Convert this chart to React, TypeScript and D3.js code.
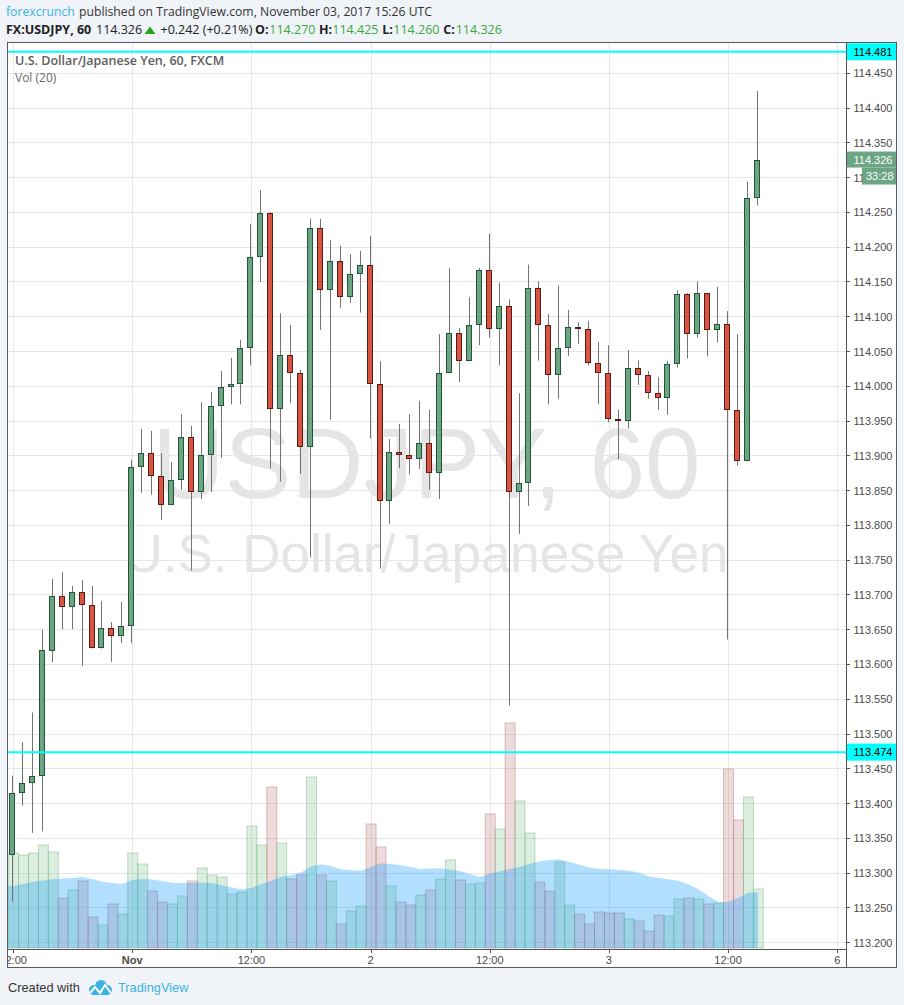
import React from 'react';
import * as d3 from 'd3';

// ---------- data ----------
const opens = [113.326,113.415,113.430,113.440,113.620,113.698,113.682,113.704,113.685,113.623,
113.652,113.641,113.655,113.884,113.904,113.871,113.829,113.865,113.927,113.848,
113.901,113.971,113.999,114.003,114.055,114.186,114.249,113.968,114.045,114.019,
113.912,114.227,114.138,114.180,114.129,114.161,114.174,114.003,113.835,113.905,
113.901,113.896,113.918,113.875,114.019,114.076,114.036,114.088,114.167,114.082,
114.115,113.848,113.861,114.142,114.088,114.016,114.055,114.085,114.082,114.034,
114.019,113.953,113.950,114.026,114.016,113.990,113.983,114.032,114.132,114.075,
114.134,114.081,114.089,113.966,113.892,114.270];
const highs = [113.440,113.488,113.531,113.650,113.723,113.733,113.713,113.721,113.713,113.691,
113.661,113.690,113.894,113.939,113.936,113.904,113.891,113.960,113.943,113.977,
113.992,114.022,114.041,114.067,114.233,114.282,114.250,114.105,114.088,114.024,
114.241,114.241,114.210,114.202,114.190,114.195,114.216,114.036,113.924,113.946,
113.960,113.979,113.966,114.075,114.170,114.084,114.128,114.170,114.219,114.149,
114.125,113.990,114.175,114.151,114.104,114.145,114.110,114.092,114.094,114.064,
114.059,113.966,114.052,114.037,114.022,114.013,114.036,114.138,114.134,114.151,
114.134,114.143,114.108,114.075,114.294,114.425];
const lows = [113.259,113.397,113.358,113.360,113.603,113.651,113.651,113.598,113.623,113.623,
113.604,113.631,113.631,113.847,113.844,113.808,113.829,113.851,113.735,113.838,
113.848,113.897,113.974,113.974,114.030,114.150,113.882,113.863,113.976,113.874,
113.754,114.081,113.952,114.113,114.120,114.106,113.925,113.738,113.802,113.882,
113.873,113.881,113.851,113.838,114.019,114.006,114.036,114.059,114.070,114.030,
113.541,113.788,113.828,114.037,113.974,113.982,114.044,114.061,114.030,113.974,
113.948,113.895,113.939,114.002,113.982,113.966,113.959,114.027,114.040,114.070,
114.043,114.063,113.636,113.886,113.892,114.260];
const closes = [113.415,113.430,113.440,113.621,113.698,113.682,113.704,113.685,113.623,113.652,
113.641,113.655,113.884,113.904,113.871,113.829,113.865,113.927,113.848,113.901,
113.971,113.999,114.003,114.055,114.186,114.249,113.968,114.045,114.019,113.912,
114.227,114.138,114.180,114.129,114.161,114.174,114.003,113.835,113.905,113.901,
113.896,113.918,113.875,114.019,114.076,114.036,114.088,114.167,114.082,114.115,
113.848,113.861,114.142,114.088,114.016,114.055,114.085,114.082,114.034,114.019,
113.953,113.950,114.026,114.016,113.990,113.983,114.032,114.132,114.075,114.134,
114.081,114.089,113.966,113.892,114.270,114.326];
const volumes = [950,930,950,1030,960,500,580,670,310,230,
440,340,950,840,570,460,440,520,670,800,
730,710,540,560,1220,1030,1610,1050,690,730,
1710,730,670,240,370,420,1240,1010,620,460,
430,530,580,690,880,680,640,650,1340,1190,
2250,1470,1150,660,570,860,430,340,240,360,
350,350,290,270,170,330,320,490,500,490,
440,450,1790,1280,1510,590];
const volMA = [620,640,660,675,687,695,700,710,690,663,
650,640,680,690,685,670,653,650,653,653,
650,630,605,587,600,640,673,710,730,755,
815,837,820,787,780,773,810,847,840,830,
810,787,795,797,785,770,740,710,745,765,
790,810,840,865,880,887,860,835,805,792,
787,780,773,755,715,700,685,673,635,590,
520,460,460,500,553,557];
const timeTickIndex = [0, 12, 24, 36, 48, 60, 72, 83];
const timeTickLabels = ['12:00', 'Nov', '12:00', '2', '12:00', '3', '12:00', '6'];
const timeTickBold = [false, true, false, false, false, false, false, false];
const priceTicks = d3.range(0, 26).map((i) => 113.2 + i * 0.05);
const levelLines = [114.481, 113.474];
const lastPrice = 114.326;
const countdown = '33:28';

// ---------- layout ----------
const W = 904, H = 1005;
const plotL = 7, plotR = 846, plotT = 42, plotB = 949, frameR = 897, frameB = 968;
const SANS = "'Liberation Sans', Arial, sans-serif";
const HEAD = "'Open Sans', 'Noto Sans', sans-serif";
const FOOT = "'Liberation Sans Narrow', 'Liberation Sans', sans-serif";

const x = d3.scaleLinear().domain([0, 83]).range([13.1, 837.3]);
const y = d3.scaleLinear().domain([113.2, 114.45]).range([942.7, 73.3]);
const yv = d3.scaleLinear().domain([0, 3000]).range([948, 648]);
const fmt = d3.format('.3f');

const UP = '#6ba583', UP_B = '#225437', DN = '#d75442', DN_B = '#5b1a13';

export default function App() {
  const n = opens.length;
  const idx = d3.range(n);
  const step = x(1) - x(0);

  const maPts: [number, number][] = [[plotL, yv(volMA[0])], ...idx.map((i) => [x(i), yv(volMA[i])] as [number, number])];
  const area = d3.area<[number, number]>().x((d) => d[0]).y0(yv(0)).y1((d) => d[1])(maPts) || '';

  const hy = (p: number) => Math.floor(y(p)) + 0.5;
  const lastY = y(lastPrice);

  return (
    <div style={{ position: 'fixed', left: 0, top: 0, width: W, height: H, background: '#f0f3f7' }}>
      <svg width={W} height={H} style={{ display: 'block' }}>
        <defs>
          <clipPath id="plot"><rect x={plotL} y={plotT} width={plotR - plotL} height={plotB - plotT} /></clipPath>
          <clipPath id="taxis"><rect x={plotL} y={plotB} width={plotR - plotL} height={frameB - plotB} /></clipPath>
          <clipPath id="paxis"><rect x={plotR} y={plotT} width={862 - plotR} height={plotB - plotT} /></clipPath>
        </defs>
        <rect x={0} y={0} width={W} height={H} fill="#f0f3f7" />

        {/* header */}
        <text x={6} y={16} fontFamily={HEAD} fontSize={12.2}>
          <tspan fill="#3bb3e4">forexcrunch</tspan>
          <tspan fill="#333" x={79}>published on TradingView.com, November 03, 2017 15:26 UTC</tspan>
        </text>
        <g fontFamily={HEAD} fontSize={12.5}>
          <text x={6} y={34} fontWeight="bold" fill="#222">FX:USDJPY, 60</text>
          <text x={96} y={34} fill="#222">{fmt(lastPrice)}</text>
          <path d="M144.7,34 L150,26.5 L155.3,34 Z" fill="#1ea51e" />
          <text x={160.5} y={34} fill="#222">+0.242 (+0.21%)</text>
          <text x={255} y={34} fontWeight="bold" fill="#222">O:</text>
          <text x={269.3} y={34} fill="#3aa83a">{fmt(opens[n - 1])}</text>
          <text x={319} y={34} fontWeight="bold" fill="#222">H:</text>
          <text x={332.3} y={34} fill="#3aa83a">{fmt(highs[n - 1])}</text>
          <text x={382.3} y={34} fontWeight="bold" fill="#222">L:</text>
          <text x={393.3} y={34} fill="#3aa83a">{fmt(lows[n - 1])}</text>
          <text x={443.3} y={34} fontWeight="bold" fill="#222">C:</text>
          <text x={455.7} y={34} fill="#3aa83a">{fmt(closes[n - 1])}</text>
        </g>

        {/* chart frame */}
        <rect x={plotL} y={plotT} width={frameR - plotL} height={frameB - plotT} fill="#fff" />

        <g clipPath="url(#plot)">
          {/* watermark */}
          <text x={(plotL + plotR) / 2} y={498} textAnchor="middle" fontFamily={SANS} fontSize={100} fill="#e5e5e5">USDJPY, 60</text>
          <text x={(plotL + plotR) / 2} y={572} textAnchor="middle" fontFamily={SANS} fontSize={53} fill="#e5e5e5">U.S. Dollar/Japanese Yen</text>

          {/* grid */}
          {priceTicks.map((t, i) => (
            <line key={'hg' + i} x1={plotL} x2={plotR} y1={hy(t)} y2={hy(t)} stroke="#e6e6e6" strokeWidth={1} />
          ))}
          {timeTickIndex.map((t, i) => (
            <line key={'vg' + i} x1={Math.round(x(t)) + 0.5} x2={Math.round(x(t)) + 0.5} y1={plotT} y2={plotB} stroke="#e6e6e6" strokeWidth={1} />
          ))}

          {/* volume */}
          {idx.map((i) => {
            const up = closes[i] >= opens[i];
            const c = up ? '#7fc08a' : '#bf7f80';
            const x0 = x(i) - step / 2 + 0.5;
            return (
              <rect key={'v' + i} x={x0} y={yv(volumes[i])} width={step} height={yv(0) - yv(volumes[i])}
                fill={c} fillOpacity={0.27} stroke={c} strokeOpacity={0.5} strokeWidth={1} />
            );
          })}
          <path d={area} fill="#0496ff" fillOpacity={0.3} />

          {/* candles */}
          {idx.map((i) => {
            const up = closes[i] >= opens[i];
            const wx = Math.round(x(i) - 1) + 0.5;
            const top = Math.round(y(Math.max(opens[i], closes[i])));
            const bot = Math.round(y(Math.min(opens[i], closes[i])));
            return (
              <g key={'c' + i}>
                <line x1={wx} x2={wx} y1={y(highs[i])} y2={y(lows[i])} stroke="#737373" strokeWidth={1} />
                <rect x={wx - 3} y={top + 0.5} width={5} height={Math.max(bot - top - 1, 1)}
                  fill={up ? UP : DN} stroke={up ? UP_B : DN_B} strokeWidth={1} />
              </g>
            );
          })}

          {/* horizontal level lines */}
          {levelLines.map((p, i) => (
            <line key={'lv' + i} x1={plotL} x2={plotR} y1={y(p)} y2={y(p)} stroke="#00ffff" strokeWidth={2} />
          ))}
        </g>

        {/* legend */}
        <text x={15} y={65} fontFamily={HEAD} fontSize={12.5} fontWeight={600} fill="#5d5d5d">U.S. Dollar/Japanese Yen, 60, FXCM</text>
        <text x={15} y={82} fontFamily={HEAD} fontSize={12} fill="#6a6a6a">Vol (20)</text>

        {/* price axis */}
        <g fontFamily={SANS} fontSize={11} fill="#4a4a4a">
          {priceTicks.map((t, i) => {
            const hidden = Math.abs(y(t) - (lastY + 16.5)) < 8.5;
            return (
              <g key={'pt' + i}>
                <line x1={plotR} x2={plotR + 4} y1={hy(t)} y2={hy(t)} stroke="#555" />
                {hidden ? (
                  <g clipPath="url(#paxis)"><text x={853.5} y={y(t) + 4}>{fmt(t).slice(0, 2)}</text></g>
                ) : (
                  <text x={853.5} y={y(t) + 4}>{fmt(t)}</text>
                )}
              </g>
            );
          })}
        </g>
        {levelLines.map((p, i) => (
          <g key={'ll' + i}>
            <rect x={plotR} y={Math.max(y(p) - 8.5, plotT)} width={frameR - plotR} height={y(p) + 8.5 - Math.max(y(p) - 8.5, plotT)} fill="#00ffff" />
            <text x={853.5} y={y(p) + 4} fontFamily={SANS} fontSize={11} fill="#000">{fmt(p)}</text>
          </g>
        ))}
        <rect x={plotR} y={lastY - 8} width={frameR - plotR} height={16} fill={UP} />
        <text x={853.5} y={lastY + 4} fontFamily={SANS} fontSize={11} fill="#fff">{fmt(lastPrice)}</text>
        <rect x={862} y={lastY + 8} width={frameR - 862} height={17} fill={UP} />
        <text x={866} y={lastY + 20.5} fontFamily={SANS} fontSize={11} fill="#fff">{countdown}</text>

        {/* time axis */}
        <g clipPath="url(#taxis)" fontFamily={SANS} fontSize={11} fill="#4a4a4a">
          {timeTickIndex.map((t, i) => (
            <g key={'tt' + i}>
              <line x1={Math.round(x(t)) + 0.5} x2={Math.round(x(t)) + 0.5} y1={plotB} y2={plotB + 4} stroke="#555" />
              <text x={x(t)} y={964} textAnchor="middle" fontWeight={timeTickBold[i] ? 'bold' : 'normal'}>{timeTickLabels[i]}</text>
            </g>
          ))}
        </g>

        {/* axis lines & frame */}
        <line x1={plotR + 0.5} x2={plotR + 0.5} y1={plotT} y2={frameB} stroke="#555" />
        <line x1={plotL} x2={plotR} y1={plotB + 0.5} y2={plotB + 0.5} stroke="#555" />
        <rect x={plotL + 0.5} y={plotT + 0.5} width={frameR - plotL - 1} height={frameB - plotT - 1} fill="none" stroke="#5a5a5a" />

        {/* footer */}
        <text x={8} y={992} fontFamily={FOOT} fontSize={12.8} fill="#333">Created with</text>
        <g fill="#3bb3e4">
          <circle cx={94} cy={990} r={5} />
          <circle cx={101} cy={986} r={6} />
          <circle cx={107} cy={990} r={5} />
          <rect x={91} y={989} width={19} height={6} rx={3} />
        </g>
        <polyline points="90,993 95,987 100,993 105,985 111,993" fill="none" stroke="#fff" strokeWidth={2} />
        <text x={118} y={992} fontFamily={FOOT} fontSize={12.8} fill="#3bb3e4">TradingView</text>
      </svg>
    </div>
  );
}
